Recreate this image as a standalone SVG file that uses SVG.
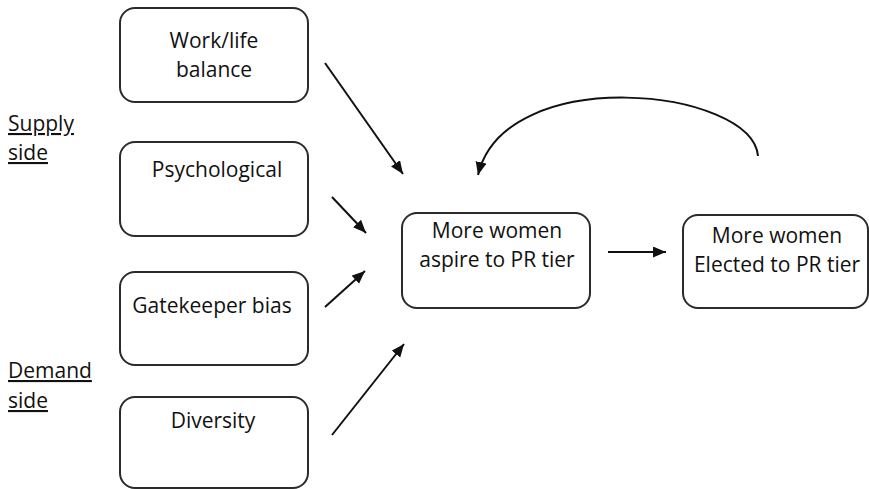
<svg xmlns="http://www.w3.org/2000/svg" width="869" height="489" viewBox="0 0 869 489">
<style>
.box{fill:#fff;stroke:#2b2b2b;stroke-width:2}
.t{font-family:"Open Sans","Liberation Sans",sans-serif;font-size:21px;fill:#111;text-anchor:middle}
.side{font-family:"Open Sans","Liberation Sans",sans-serif;font-size:21px;fill:#111;text-decoration:underline}
.c{fill:none;stroke:#111;stroke-width:2}
</style>
<defs>
<marker id="ah" markerUnits="userSpaceOnUse" markerWidth="14" markerHeight="12" refX="13" refY="5.5" orient="auto">
<path d="M0,0 L13,5.5 L0,11 z" fill="#111"/>
</marker>
</defs>
<rect width="869" height="489" fill="#fff"/>
<g id="labels">
<text class="side" x="8" y="131">Supply</text>
<text class="side" x="8" y="160">side</text>
<text class="side" x="8" y="378">Demand</text>
<text class="side" x="8" y="408">side</text>
</g>
<g id="n-worklife"><rect class="box" x="120" y="8" width="188" height="94" rx="15"/><text class="t" x="214" y="48">Work/life</text><text class="t" x="214" y="77">balance</text></g>
<g id="n-psych"><rect class="box" x="120" y="142" width="188" height="94" rx="15"/><text class="t" x="217" y="177">Psychological</text></g>
<g id="n-gate"><rect class="box" x="120" y="272" width="188" height="93" rx="15"/><text class="t" x="212" y="313">Gatekeeper bias</text></g>
<g id="n-div"><rect class="box" x="120" y="397" width="188" height="91" rx="15"/><text class="t" x="213" y="428">Diversity</text></g>
<g id="n-aspire"><rect class="box" x="402" y="213" width="188" height="95" rx="15"/><text class="t" x="497" y="238">More women</text><text class="t" x="497" y="267">aspire to PR tier</text></g>
<g id="n-elected"><rect class="box" x="683" y="215" width="185" height="93" rx="15"/><text class="t" x="777" y="243">More women</text><text class="t" x="777" y="272">Elected to PR tier</text></g>
<g id="connectors">
<line class="c" x1="325" y1="63" x2="403" y2="174" marker-end="url(#ah)"/>
<line class="c" x1="332" y1="197" x2="366" y2="233" marker-end="url(#ah)"/>
<line class="c" x1="325" y1="307" x2="365" y2="271" marker-end="url(#ah)"/>
<line class="c" x1="332" y1="435" x2="404" y2="344" marker-end="url(#ah)"/>
<line class="c" x1="608" y1="252" x2="666" y2="252" marker-end="url(#ah)"/>
<path class="c" d="M758,156 C752,88 505,62 478,175" marker-end="url(#ah)"/>
</g>
</svg>
